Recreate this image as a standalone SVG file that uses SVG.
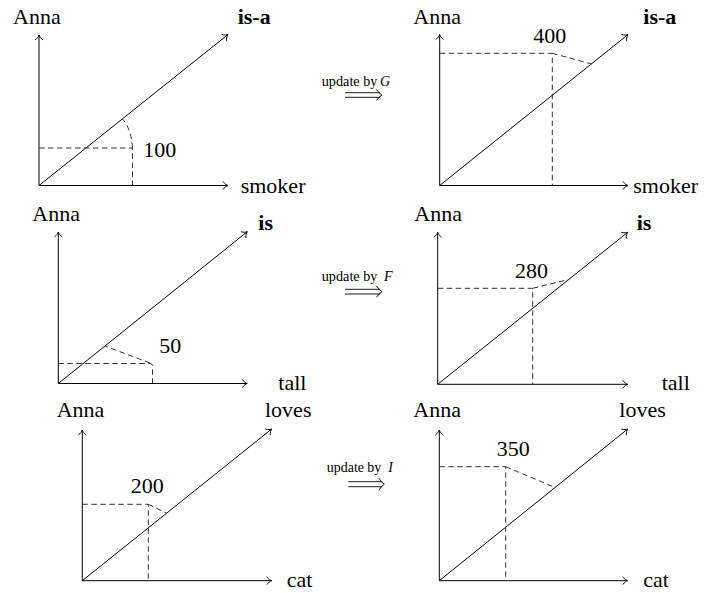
<svg xmlns="http://www.w3.org/2000/svg" width="709" height="593" viewBox="0 0 709 593" font-family="Liberation Serif, Times New Roman, serif">
<style>
.t{font-family:"Liberation Serif","Times New Roman",serif;font-size:22px;fill:#000}
.b{font-weight:bold}
.s{font-family:"Liberation Serif","Times New Roman",serif;font-size:14px;fill:#000}
.it{font-style:italic}
.ax{fill:none;stroke:#000;stroke-width:1;marker-end:url(#ar)}
.ds{fill:none;stroke:#333;stroke-width:1;stroke-dasharray:5.5 3.5}
.dbl{fill:none;stroke:#000;stroke-width:0.9}
</style>
<defs>
<marker id="ar" viewBox="-6 -5 7 10" refX="0" refY="0" markerWidth="7" markerHeight="10" markerUnits="userSpaceOnUse" orient="auto" overflow="visible">
<path d="M-5,-4 C-3.5,-1.6 -1.2,-0.4 0,0 C-1.2,0.4 -3.5,1.6 -5,4" fill="none" stroke="#000" stroke-width="0.9"/>
</marker>
</defs>

<g id="panel-smoker-before">
<path class="ax" d="M39,185.5 V35"/>
<path class="ax" d="M39,185.5 H228"/>
<path class="ax" d="M39,185.5 L228,34.5"/>
<path class="ds" d="M39,148 H132.5 V185.5"/>
<path class="ds" d="M132.5,148 Q131,128 122.5,119"/>
<text class="t" x="13" y="24">Anna</text>
<text class="t b" x="237.7" y="24">is-a</text>
<text class="t" x="143.3" y="156.7">100</text>
<text class="t" x="240.7" y="193.3">smoker</text>
</g>

<g id="panel-smoker-after">
<path class="ax" d="M439.7,185.5 V34.5"/>
<path class="ax" d="M439.7,185.5 H628"/>
<path class="ax" d="M439.7,185.5 L628,34.5"/>
<path class="ds" d="M439.7,53.3 H552.3 V185.5"/>
<path class="ds" d="M552.3,53.3 L591.7,64"/>
<text class="t" x="413.3" y="24">Anna</text>
<text class="t b" x="643.3" y="24">is-a</text>
<text class="t" x="533.3" y="43.3">400</text>
<text class="t" x="633.3" y="193.3">smoker</text>
</g>

<g id="panel-tall-before">
<path class="ax" d="M58.3,383.5 V232"/>
<path class="ax" d="M58.3,383.5 H247.3"/>
<path class="ax" d="M58.3,383.5 L247.3,231.7"/>
<path class="ds" d="M58.3,363.5 H150 Q152.5,363.5 152.5,366 V383.5"/>
<path class="ds" d="M150,363 L105,346"/>
<text class="t" x="32.3" y="220.7">Anna</text>
<text class="t b" x="258.3" y="230">is</text>
<text class="t" x="159.3" y="353.3">50</text>
<text class="t" x="278.3" y="390">tall</text>
</g>

<g id="panel-tall-after">
<path class="ax" d="M437.7,384.3 V232.3"/>
<path class="ax" d="M437.7,384.3 H627.7"/>
<path class="ax" d="M437.7,384.3 L627.7,232.3"/>
<path class="ds" d="M437.7,288.3 H532.7 V384.3"/>
<path class="ds" d="M532.7,288.3 L569.3,279.3"/>
<text class="t" x="414.3" y="220.7">Anna</text>
<text class="t b" x="636.7" y="230">is</text>
<text class="t" x="515" y="277.7">280</text>
<text class="t" x="661.7" y="390">tall</text>
</g>

<g id="panel-cat-before">
<path class="ax" d="M82.3,580.7 V430"/>
<path class="ax" d="M82.3,580.7 H271.7"/>
<path class="ax" d="M82.3,580.7 L271.7,429"/>
<path class="ds" d="M82.3,504.3 H148.3 V580.7"/>
<path class="ds" d="M148.3,504.3 L166.7,513.3"/>
<text class="t" x="56.7" y="416.7">Anna</text>
<text class="t" x="265" y="416.7">loves</text>
<text class="t" x="130.7" y="493.3">200</text>
<text class="t" x="286.7" y="586.7">cat</text>
</g>

<g id="panel-cat-after">
<path class="ax" d="M439.3,580.7 V430"/>
<path class="ax" d="M439.3,580.7 H627.7"/>
<path class="ax" d="M439.3,580.7 L627.7,429"/>
<path class="ds" d="M439.3,466.7 H505.7 V580.7"/>
<path class="ds" d="M505.7,466.7 L555,487.5"/>
<text class="t" x="413.3" y="416.7">Anna</text>
<text class="t" x="619.3" y="416.7">loves</text>
<text class="t" x="496.7" y="456">350</text>
<text class="t" x="643.3" y="586.7">cat</text>
</g>

<g id="connectors">
<g id="update-G">
<text class="s" x="321.7" y="85.7" textLength="38" lengthAdjust="spacingAndGlyphs">update</text>
<text class="s" x="363.3" y="85.7">by</text>
<text class="s it" x="380" y="85.7">G</text>
<path class="dbl" d="M345,92.7 H380 M345,97.3 H380 M376.5,89.5 Q379,93.5 382,95 Q379,96.5 376.5,100.5"/>
</g>
<g id="update-F">
<text class="s" x="321.7" y="280.7" textLength="38" lengthAdjust="spacingAndGlyphs">update</text>
<text class="s" x="363.3" y="280.7">by</text>
<text class="s it" x="384" y="280.7">F</text>
<path class="dbl" d="M345,289.3 H380 M345,294 H380 M376.5,286 Q379,290 382,291.7 Q379,293.3 376.5,297.3"/>
</g>
<g id="update-I">
<text class="s" x="326.7" y="472.3" textLength="37.3" lengthAdjust="spacingAndGlyphs">update</text>
<text class="s" x="367.3" y="472.3">by</text>
<text class="s it" x="388.3" y="472.3">I</text>
<path class="dbl" d="M348.3,481.7 H382.3 M348.3,486.7 H382.3 M378.8,478.2 Q381.3,482.2 384.3,484.2 Q381.3,486.2 378.8,490.2"/>
</g>
</g>
</svg>
